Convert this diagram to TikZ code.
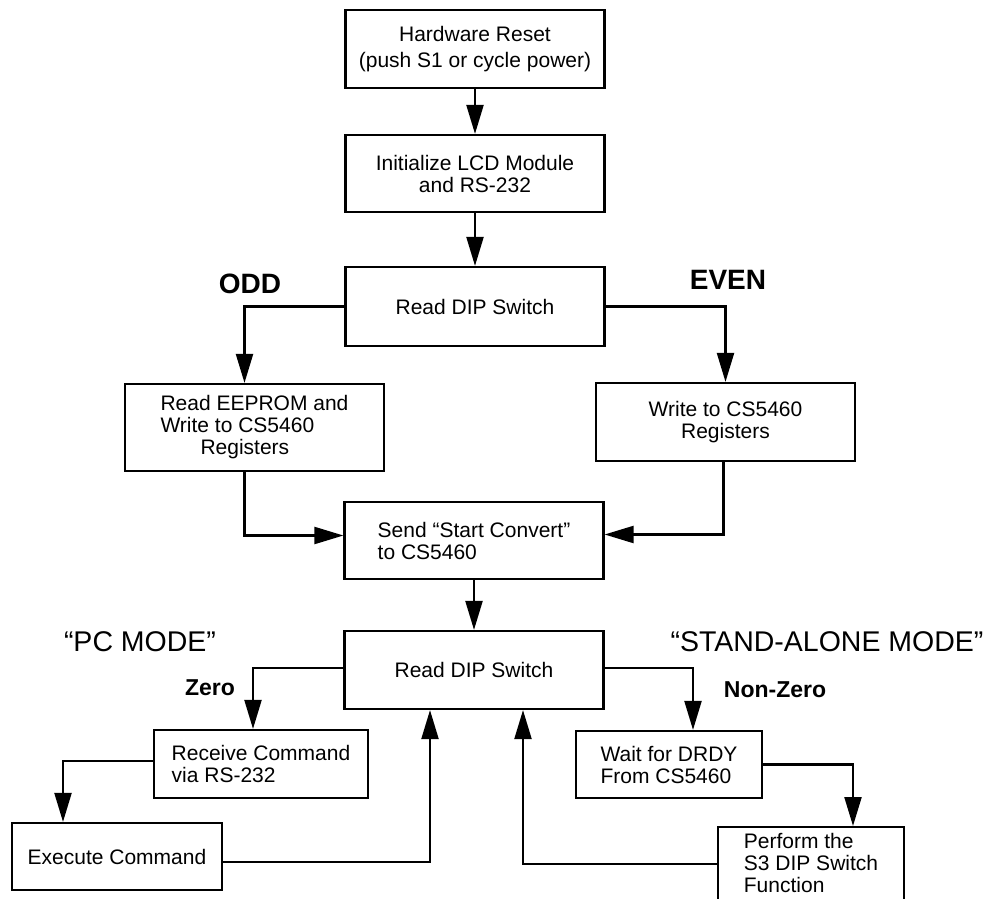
\documentclass[tikz,border=0pt]{standalone}
\usepackage{fontspec}
\setmainfont{Liberation Sans}
\usetikzlibrary{arrows.meta}

\newcommand{\boxfont}{\fontsize{21}{22}\selectfont}

\begin{document}
\begin{tikzpicture}[x=1pt, y=-1pt,
    box/.style={draw, line width=2.2pt, inner sep=0pt, font=\boxfont},
    flow/.style={line width=2.2pt, -{Triangle[length=29pt, width=17pt]}},
    branch/.style={font=\fontsize{28}{30}\selectfont\bfseries},
    case/.style={font=\fontsize{23}{25}\selectfont\bfseries},
    mode/.style={font=\fontsize{28.5}{30}\selectfont}]
    \clip (0,0) rectangle (989,899);

    \node[box, minimum width=259pt, minimum height=78pt, align=center,
          font=\fontsize{21}{26}\selectfont] (reset) at (475,49)
        {Hardware Reset\\(push S1 or cycle power)};
    \node[box, minimum width=259pt, minimum height=77pt, align=center] (init) at (475,173.5)
        {Initialize LCD Module\\and RS-232};
    \node[box, minimum width=259pt, minimum height=79pt] (dipa) at (475,306.5) {Read DIP Switch};

    \node[box, minimum width=259pt, minimum height=87pt, align=left] (eeprom) at (254.5,427.5)
        {Read EEPROM and\\Write to CS5460\\\hspace*{40pt}Registers};
    \node[box, minimum width=259pt, minimum height=78pt, align=center] (write) at (725.5,422)
        {Write to CS5460\\Registers};

    \node[box, minimum width=259pt, minimum height=77pt, align=left] (start) at (474,540.5)
        {Send “Start Convert”\\to CS5460};
    \node[box, minimum width=259pt, minimum height=78pt] (dipb) at (474,670) {Read DIP Switch};

    \node[box, minimum width=214pt, minimum height=68pt, align=left] (receive) at (261,764)
        {Receive Command\\via RS-232};
    \node[box, minimum width=210pt, minimum height=67pt] (execute) at (117,856.5) {Execute Command};
    \node[box, minimum width=186pt, minimum height=67pt, align=left] (wait) at (669,764.5)
        {Wait for DRDY\\From CS5460};
    \node[box, minimum width=186pt, inner ysep=6pt, text depth=80pt, align=left,
          anchor=north] (perform) at (811,826)
        {Perform the\\S3 DIP Switch\\Function};

    \node[branch] (odd) at (250,284) {ODD};
    \node[branch] (even) at (728,280) {EVEN};
    \node[mode] (pcmode) at (140,642) {“PC MODE”};
    \node[mode] (samode) at (827,642) {“STAND-ALONE MODE”};
    \node[case] (zero) at (210,688) {Zero};
    \node[case] (nonzero) at (775,690) {Non-Zero};

    \draw[flow] (reset) -- (init);
    \draw[flow] (init) -- (dipa);
    \draw[flow] (dipa.west) -| ([xshift=-10pt]eeprom.north);
    \draw[flow] (dipa.east) -| (write.north);
    \draw[flow] ([xshift=-10pt]eeprom.south) |- ([yshift=5pt]start.west);
    \draw[flow] ([xshift=-2pt]write.south) |- ([yshift=6pt]start.east);
    \draw[flow] (start) -- (dipb);

    \draw[flow] ([yshift=2pt]dipb.west) -| ([xshift=-8pt]receive.north);
    \draw[flow] ([yshift=3pt]receive.west) -| ([xshift=-54pt]execute.north);
    \draw[flow] ([yshift=-5.5pt]execute.east) -| ([xshift=-44pt]dipb.south);
    \draw[flow] ([yshift=2pt]dipb.east) -| ([xshift=24pt]wait.north);
    \draw[flow] (wait.east) -| ([xshift=42pt]perform.north);
    \draw[flow] ([yshift=-38pt]perform.north west) -| ([xshift=49pt]dipb.south);
\end{tikzpicture}
\end{document}
